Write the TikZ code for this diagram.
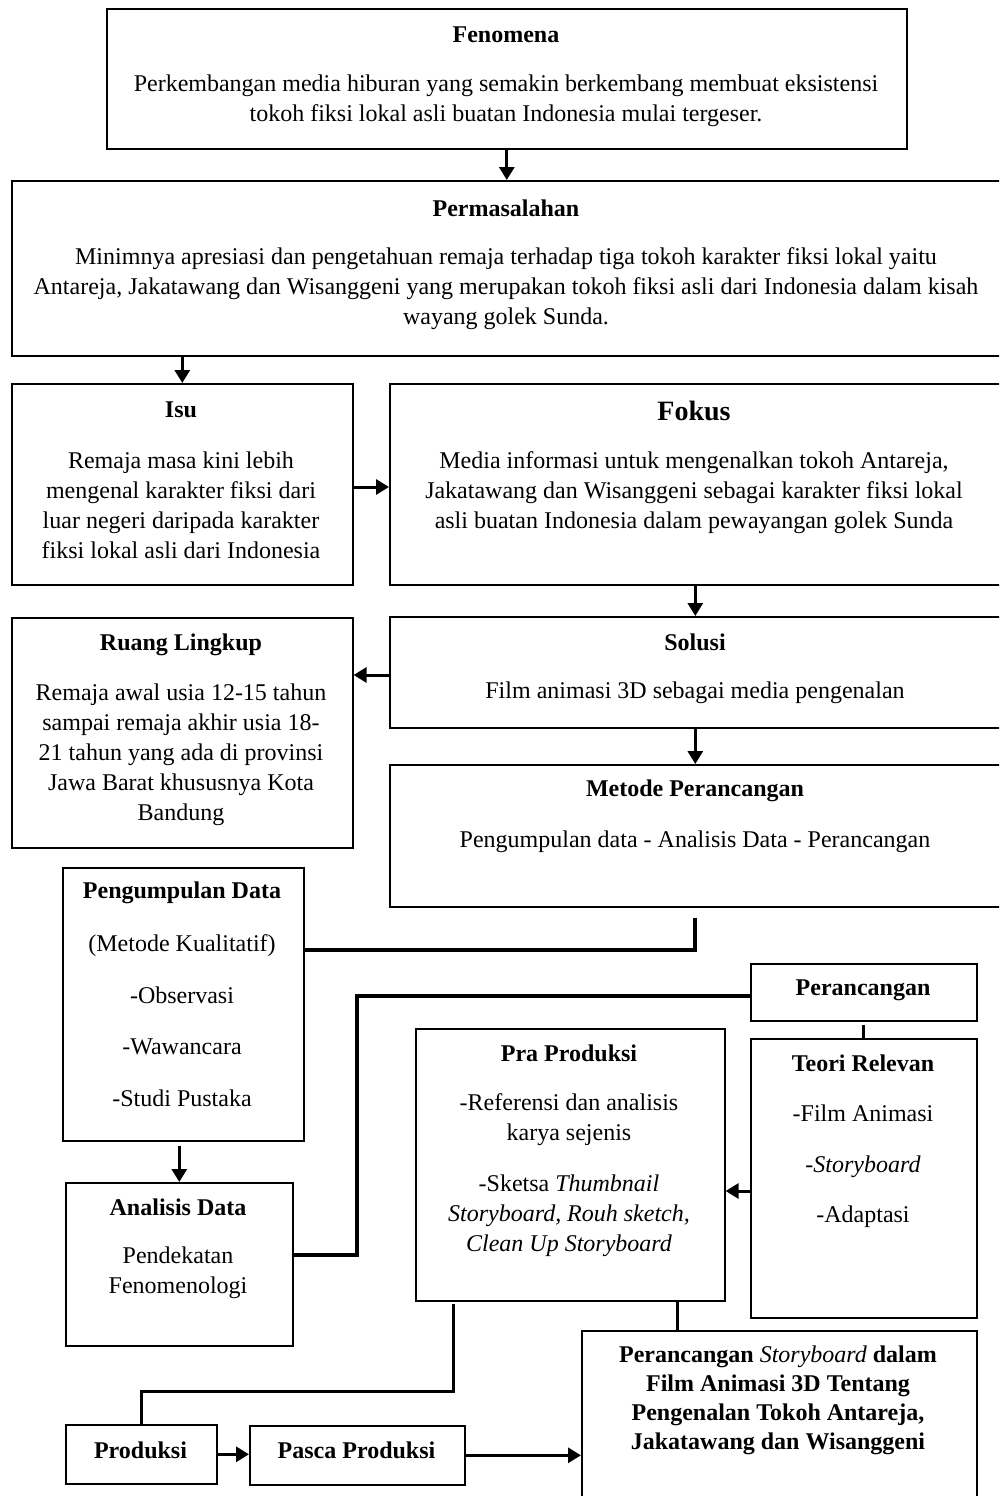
\documentclass[tikz,border=0pt]{standalone}
\usepackage{fontspec}
\setmainfont{Liberation Serif}
\usetikzlibrary{arrows.meta,calc}
\tikzset{
 box/.style={draw, line width=1.6pt, anchor=north west, inner sep=0pt},
 txt/.style={font=\fontsize{24}{30}\selectfont, align=center, inner sep=0pt},
 ttl/.style={font=\fontsize{24}{30}\selectfont\bfseries, align=center, inner sep=0pt},
 arr/.style={line width=3pt, -{Triangle[length=13pt,width=15pt]}},
 link/.style={line width=4pt},
 thinlink/.style={line width=3pt}
}
\begin{document}
\begin{tikzpicture}[x=1pt,y=-1pt]
\clip (0,0) rectangle (999,1496);
\fill[white] (0,0) rectangle (999,1496);
% boxes
\node[box, minimum width=800pt, minimum height=140pt] (fen) at (106,8) {};
\node[box, minimum width=989pt, minimum height=175pt] (perm) at (11,180) {};
\node[box, minimum width=341pt, minimum height=201pt] (isu) at (11,383) {};
\node[box, minimum width=611pt, minimum height=201pt] (fok) at (389,383) {};
\node[box, minimum width=611pt, minimum height=111pt] (sol) at (389,616) {};
\node[box, minimum width=341pt, minimum height=230pt] (rl) at (11,617) {};
\node[box, minimum width=611pt, minimum height=142pt] (met) at (389,764) {};
\node[box, minimum width=241pt, minimum height=273pt] (pd) at (62,867) {};
\node[box, minimum width=226pt, minimum height=57pt] (per) at (750,963) {};
\node[box, minimum width=309pt, minimum height=272pt] (pra) at (415,1028) {};
\node[box, minimum width=226pt, minimum height=279pt] (teo) at (750,1038) {};
\node[box, minimum width=227pt, minimum height=163pt] (ad) at (65,1182) {};
\node[box, minimum width=151pt, minimum height=59pt] (prod) at (65,1424) {};
\node[box, minimum width=215pt, minimum height=59pt] (pasca) at (249,1425) {};
\node[box, minimum width=395pt, minimum height=200pt] (fin) at (581,1330) {};
% texts
\node[ttl] (fenT) at (506,35) {Fenomena};
\node[txt] (fenB) at (506,100.5) {Perkembangan media hiburan yang semakin berkembang membuat eksistensi\\tokoh fiksi lokal asli buatan Indonesia mulai tergeser.};
\node[ttl] (permT) at (506,208) {Permasalahan};
\node[txt] (permB) at (506,289) {Minimnya apresiasi dan pengetahuan remaja terhadap tiga tokoh karakter fiksi lokal yaitu\\Antareja, Jakatawang dan Wisanggeni yang merupakan tokoh fiksi asli dari Indonesia dalam kisah\\wayang golek Sunda.};
\node[ttl] (isuT) at (181,410) {Isu};
\node[txt] (isuB) at (181,505) {Remaja masa kini lebih\\mengenal karakter fiksi dari\\luar negeri daripada karakter\\fiksi lokal asli dari Indonesia};
\node[ttl, font=\fontsize{28}{32}\selectfont\bfseries] (fokT) at (694,411) {Fokus};
\node[txt] (fokB) at (694,493) {Media informasi untuk mengenalkan tokoh Antareja,\\Jakatawang dan Wisanggeni sebagai karakter fiksi lokal\\asli buatan Indonesia dalam pewayangan golek Sunda};
\node[ttl] (solT) at (695,642) {Solusi};
\node[txt] (solB) at (695,693) {Film animasi 3D sebagai media pengenalan};
\node[ttl] (rlT) at (181,645) {Ruang Lingkup};
\node[txt] (rlB) at (181,755) {Remaja awal usia 12-15 tahun\\sampai remaja akhir usia 18-\\21 tahun yang ada di provinsi\\Jawa Barat khususnya Kota\\Bandung};
\node[ttl] (metT) at (695,791) {Metode Perancangan};
\node[txt] (metB) at (695,842) {Pengumpulan data - Analisis Data - Perancangan};
\node[ttl] (pdT) at (182,893) {Pengumpulan Data};
\node[txt, font=\fontsize{24}{51.5}\selectfont] (pdB) at (182,1020.5) {(Metode Kualitatif)\\-Observasi\\-Wawancara\\-Studi Pustaka};
\node[ttl] (perT) at (863,990) {Perancangan};
\node[ttl] (praT) at (569,1053) {Pra Produksi};
\node[txt] (praB1) at (569,1120) {-Referensi dan analisis\\karya sejenis};
\node[txt] (praB2) at (569,1216) {-Sketsa \textit{Thumbnail}\\\textit{Storyboard, Rouh sketch,}\\\textit{Clean Up Storyboard}};
\node[ttl] (teoT) at (863,1063) {Teori Relevan};
\node[txt, font=\fontsize{24}{50.5}\selectfont] (teoB) at (863,1166.5) {-Film Animasi\\-\textit{Storyboard}\\-Adaptasi};
\node[ttl] (adT) at (178,1207) {Analisis Data};
\node[txt] (adB) at (178,1273) {Pendekatan\\Fenomenologi};
\node[ttl] (prodT) at (140.5,1450) {Produksi};
\node[ttl] (pascaT) at (356.5,1450) {Pasca Produksi};
\node[ttl, font=\fontsize{24}{29}\selectfont\bfseries] (finT) at (778,1400.5) {Perancangan {\mdseries\itshape Storyboard} dalam\\Film Animasi 3D Tentang\\Pengenalan Tokoh Antareja,\\Jakatawang dan Wisanggeni};
% connectors
\draw[arr] (fen.south) -- (perm.north -| fen.south);
\draw[arr] (perm.south -| isu.north) -- (isu.north);
\draw[arr] ([yshift=-104pt]isu.north east) -- ([yshift=-104pt]fok.north west);
\draw[arr] (fok.south) -- (sol.north);
\draw[arr] ([yshift=-59pt]sol.north west) -- ([yshift=-59pt]sol.north west -| rl.east);
\draw[arr] (sol.south) -- (met.north);
\draw[link] ([yshift=-10pt]met.south) |- ([yshift=-83pt]pd.north east);
\coordinate (c1) at (357,1255);
\draw[link] ([yshift=-33pt]per.north west) -| (c1) -- (c1 -| ad.east);
\draw[thinlink] ([yshift=-3pt]per.south) -- (teo.north);
\draw[arr] ([yshift=-153pt]teo.north west) -- ([yshift=-153pt]teo.north west -| pra.east);
\draw[arr] ([yshift=-4pt]pd.south -| ad.north) -- (ad.north);
\coordinate (c2) at (453,1391);
\draw[thinlink] ([xshift=38pt,yshift=-2pt]pra.south west) -- (c2) -| (prod.north);
\draw[arr] (prod.east) -- (prod.east -| pasca.west);
\draw[arr] (pasca.east) -- (pasca.east -| fin.west);
\draw[thinlink] ([xshift=-48pt]pra.south east) -- ([xshift=-48pt]pra.south east |- fin.north);
\end{tikzpicture}
\end{document}
